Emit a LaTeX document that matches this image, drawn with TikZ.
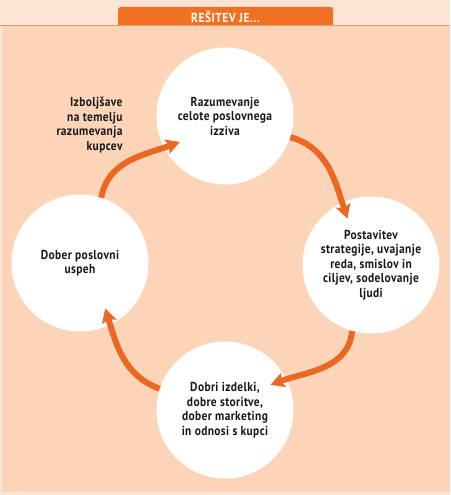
\documentclass[tikz,border=0pt]{standalone}
\usepackage{fontspec}
\setmainfont{PT Sans}[FakeStretch=0.88,LetterSpace=3]
\usetikzlibrary{arrows.meta}

\definecolor{peach}{RGB}{252,213,185}
\definecolor{peachlight}{RGB}{253,228,212}
\definecolor{tabfill}{RGB}{241,112,36}
\definecolor{arrowfill}{RGB}{236,104,34}
\definecolor{rulecol}{RGB}{240,150,100}
\definecolor{ink}{RGB}{25,25,25}

\begin{document}
\begin{tikzpicture}[
  x=1pt, y=1pt,
  font=\bfseries\fontsize{13}{14.5}\selectfont,
  stage/.style={circle, fill=white, minimum size=137pt, inner sep=0pt,
    align=center, text=ink},
  note/.style={align=right, text=ink},
  flow/.style={-{Stealth[length=14pt,width=15pt,inset=3pt]}, line width=6pt,
    arrowfill},
  title/.style={text=white,
    font=\bfseries\fontsize{13}{15}\selectfont\addfontfeature{LetterSpace=4}}
]
\useasboundingbox (0,0) rectangle (450,495);

% background and header tab
\fill[peachlight] (0,0) rectangle (450,495);
\fill[peach] (1.5,3) rectangle (450,469);
\fill[tabfill, rounded corners=2.5pt] (118,474) rectangle (333,488);
\fill[tabfill] (118,469) rectangle (333,480);
\draw[rulecol, line width=1pt] (0,469) -- (450,469);
\node[title] (head) at (225.5,478) {REŠITEV JE...};

\node[stage] (grasp) at (225,379)
  {Razumevanje\\celote poslovnega\\izziva};
\node[stage] (strategy) at (371,230)
  {Postavitev\\strategije, uvajanje\\reda, smislov in\\ciljev, sodelovanje\\ljudi};
\node[stage] (offer) at (225,85)
  {Dobri izdelki,\\dobre storitve,\\dober marketing\\in odnosi s kupci};
\node[stage] (success) at (80,232)
  {Dober poslovni\\uspeh};

\node[note, anchor=east] (improve) at (126,370)
  {Izboljšave\\na temelju\\razumevanja\\kupcev};

\foreach \a/\sa/\o/\b/\ea/\i in {success/72/80/grasp/210/200,
    grasp/-18/-15/strategy/117/108, strategy/254/-95/offer/29/20,
    offer/162/160/success/-61/-73}
  \draw[flow] (\a.\sa) to[out=\o,in=\i] ([shift={(\ea:52pt)}]\b.center);
\end{tikzpicture}
\end{document}
